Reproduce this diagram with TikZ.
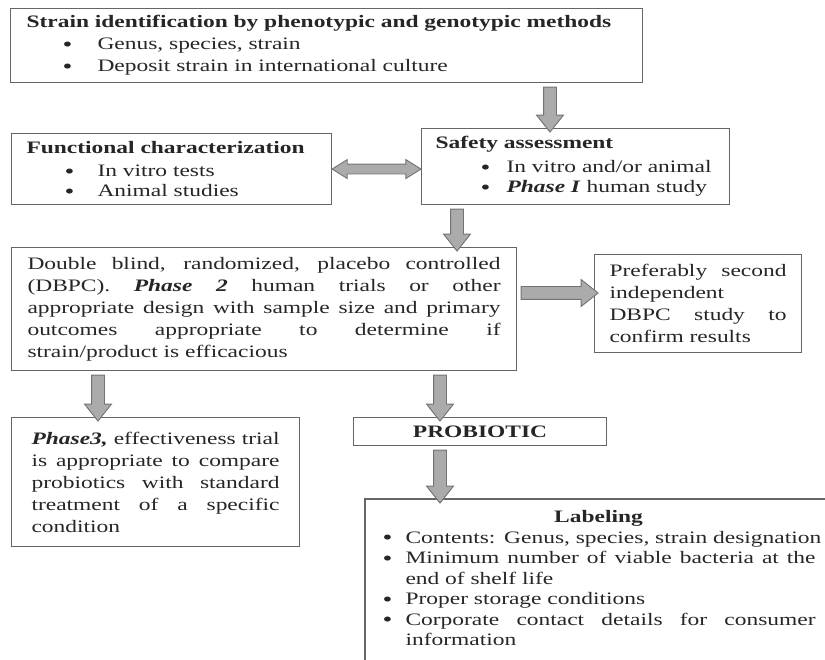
\documentclass[tikz,border=0pt]{standalone}
\usepackage{fontspec}
\setmainfont{Liberation Serif}[FakeStretch=1.34,
  BoldFeatures={FakeStretch=1.34}, ItalicFeatures={FakeStretch=1.34},
  BoldItalicFeatures={FakeStretch=1.34}]
\usetikzlibrary{calc,shapes.arrows}

% grey block arrow between two points
\newcommand{\blockarrow}[3][blockarr]{%
  \path let \p1=($(#3)-(#2)$), \n1={veclen(\x1,\y1)}, \n2={atan2(\y1,\x1)} in
    node[#1, minimum height=\n1, rotate=\n2] at ($(#2)!0.5!(#3)$) {};}
% bullet: indent, then box for the dot
\newcommand{\bul}[2]{\hspace*{#1}\makebox[#2][l]{\smash{\raisebox{-1.5pt}{\fontsize{21}{0}\selectfont\textbullet}}}}

\begin{document}
\begin{tikzpicture}[x=1pt, y=-1pt,
    panel/.style={draw=black!60, line width=1.1pt, fill=white, anchor=north west,
      text=black!85, inner xsep=15pt, inner ysep=3pt, align=left,
      font=\fontsize{17.5}{22}\selectfont},
    blockarr/.style={single arrow, draw=black!55, fill=black!33, line width=0.9pt,
      inner xsep=0pt, inner ysep=6pt, single arrow head extend=7pt,
      single arrow tip angle=77},
    blockarrtwo/.style={double arrow, draw=black!55, fill=black!33, line width=0.9pt,
      inner xsep=0pt, inner ysep=4.5pt, double arrow head extend=4.5pt,
      double arrow tip angle=64}]
        \useasboundingbox (0,0) rectangle (825,660);
        \clip (0,0) rectangle (825,660);

        % Identification
        \node [panel, text width=600pt, minimum height=74pt, inner xsep=16pt] (strain) at (10,8)
          {\textbf{Strain identification by phenotypic and genotypic methods}\\
           \bul{36pt}{35pt}Genus, species, strain\\
           \bul{36pt}{35pt}Deposit strain in international culture};

        % Functional characterization and safety
        \node [panel, text width=290pt, minimum height=71pt, font=\fontsize{17.5}{20}\selectfont] (func) at (11,133)
          {\textbf{Functional characterization}\\[3pt]
           \bul{38pt}{33pt}In vitro tests\\
           \bul{38pt}{33pt}Animal studies};
        \node [panel, text width=280pt, minimum height=76pt, inner xsep=14pt, font=\fontsize{17.5}{20}\selectfont] (safety) at (421,128)
          {\textbf{Safety assessment}\\[4pt]
           \bul{45pt}{26pt}In vitro and/or animal\\
           \bul{45pt}{26pt}\textbf{\textit{Phase I}} human study};

        % Phase 2
        \node [panel, text width=473pt, minimum height=123pt, inner xsep=16pt, align=justify] (dbpc) at (11,247)
          {Double blind, randomized, placebo controlled\linebreak
           (DBPC). \textbf{\textit{Phase 2}} human trials or other\linebreak
           appropriate design with sample size and primary\linebreak
           outcomes appropriate to determine if\linebreak
           strain/product is efficacious};
        \node [panel, text width=177pt, minimum height=98pt, align=justify] (pref) at (594,254)
          {Preferably second\linebreak independent\\ DBPC study to\linebreak confirm results};

        % Phase 3 and product
        \node [panel, text width=248pt, minimum height=129pt, inner xsep=20pt, align=justify] (phase3) at (11,417)
          {\textbf{\textit{Phase3,}} effectiveness trial\linebreak
           is appropriate to compare\linebreak
           probiotics with standard\linebreak
           treatment of a specific\linebreak
           condition};
        \node [panel, minimum width=253pt, minimum height=28pt, inner sep=0pt, align=center] (prob) at (353,417)
          {\textbf{PROBIOTIC}};

        % Labeling (runs off the page)
        \node [panel, draw=none, fill=none, text width=440pt, inner xsep=17pt, inner ysep=11pt,
          font=\fontsize{17.5}{20.5}\selectfont] (lab) at (365,499)
          {\makebox[432pt]{\textbf{Labeling}}\\
           \bul{0pt}{23pt}Contents: Genus, species, strain designation\\
           \bul{0pt}{23pt}\makebox[410pt][l]{Minimum\hfill number\hfill of\hfill viable\hfill bacteria\hfill at\hfill the}\\
           \hspace*{23pt}end of shelf life\\
           \bul{0pt}{23pt}Proper storage conditions\\
           \bul{0pt}{23pt}\makebox[410pt][l]{Corporate\hfill contact\hfill details\hfill for\hfill consumer}\\
           \hspace*{23pt}information};
        \coordinate (pagebot) at (0,670);
        \draw [black!60, line width=1.1pt] (lab.north west |- pagebot) -- (lab.north west) -- (lab.north east);

        % Arrows
        \coordinate (c1) at (550,0);
        \coordinate (c2) at (457,0);
        \coordinate (c3) at (0,293);
        \coordinate (c4) at (98,0);
        \coordinate (c5) at (440,0);
        \blockarrow{strain.south -| c1}{safety.north -| c1}
        \blockarrow[blockarrtwo]{func.east}{func.east -| safety.west}
        \blockarrow{safety.south -| c2}{dbpc.north -| c2}
        \blockarrow{dbpc.east |- c3}{pref.west |- c3}
        \blockarrow{dbpc.south -| c4}{phase3.north -| c4}
        \blockarrow{dbpc.south -| c5}{prob.north -| c5}
        \blockarrow{prob.south -| c5}{lab.north -| c5}
    \end{tikzpicture}
\end{document}
